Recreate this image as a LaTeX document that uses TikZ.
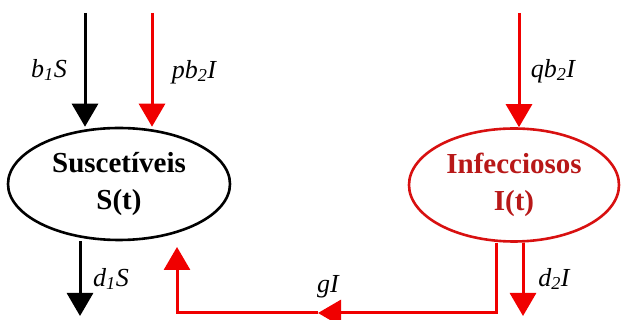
\documentclass[tikz,border=0pt]{standalone}
\usepackage{fontspec}
\setmainfont{Liberation Serif}
\usepackage{xcolor}
\usetikzlibrary{arrows.meta,positioning,shapes.geometric,calc}
\definecolor{ink}{HTML}{000000}
\definecolor{flowred}{HTML}{F00000}
\definecolor{compred}{HTML}{D81010}
\definecolor{textred}{HTML}{B81818}
\tikzset{
  compart/.style={ellipse,draw=ink,line width=2.6pt,
                  minimum width=222pt,minimum height=112pt,
                  align=center,inner sep=0pt,
                  font=\fontsize{29}{37}\selectfont\bfseries},
  infcomp/.style={compart,draw=compred,text=textred,
                  minimum width=210pt,minimum height=113pt},
  flowarr/.style={-{Triangle[length=23pt,width=26pt]},line width=3pt,draw=ink},
  redarr/.style={flowarr,draw=flowred},
  ratelab/.style={font=\fontsize{26}{28}\selectfont\itshape,inner sep=0pt}
}

\begin{document}
\begin{tikzpicture}[x=1pt,y=-1pt]
  \useasboundingbox (0,0) rectangle (622,320);
  \node[compart] (S) at (119,184) {Suscetíveis\\S(t)};
  \node[infcomp] (I) at (514,185) {Infecciosos\\I(t)};

  % entradas
  \coordinate (b1top) at (85,13);
  \coordinate (pb2top) at (152,13);
  \coordinate (qb2top) at (519,13);
  \draw[flowarr] (b1top) -- (b1top |- S.north);
  \draw[redarr] (pb2top) -- (pb2top |- S.north);
  \draw[redarr] (qb2top) -- (qb2top |- I.north);

  % saidas
  \coordinate (d1end) at (80,316);
  \coordinate (d2end) at (523,316);
  \draw[flowarr] (d1end |- S.south) -- (d1end);
  \draw[redarr] (d2end |- I.south) -- (d2end);

  % recuperacao
  \coordinate (gcorner) at (496,313);
  \coordinate (gmid) at (318,313);
  \coordinate (gend) at (177,247);
  \draw[redarr] (gcorner |- I.south) -- (gcorner) -- (gmid);
  \draw[redarr] (gmid) -| (gend);

  \node[ratelab] (lb1) at (49,70) {b\textsubscript{1}S};
  \node[ratelab] (lpb2) at (194,72) {pb\textsubscript{2}I};
  \node[ratelab] (lqb2) at (553,71) {qb\textsubscript{2}I};
  \node[ratelab] (ld1) at (111,279) {d\textsubscript{1}S};
  \node[ratelab] (ld2) at (554,279) {d\textsubscript{2}I};
  \node[ratelab] (lg) at (328,287) {gI};
\end{tikzpicture}
\end{document}
